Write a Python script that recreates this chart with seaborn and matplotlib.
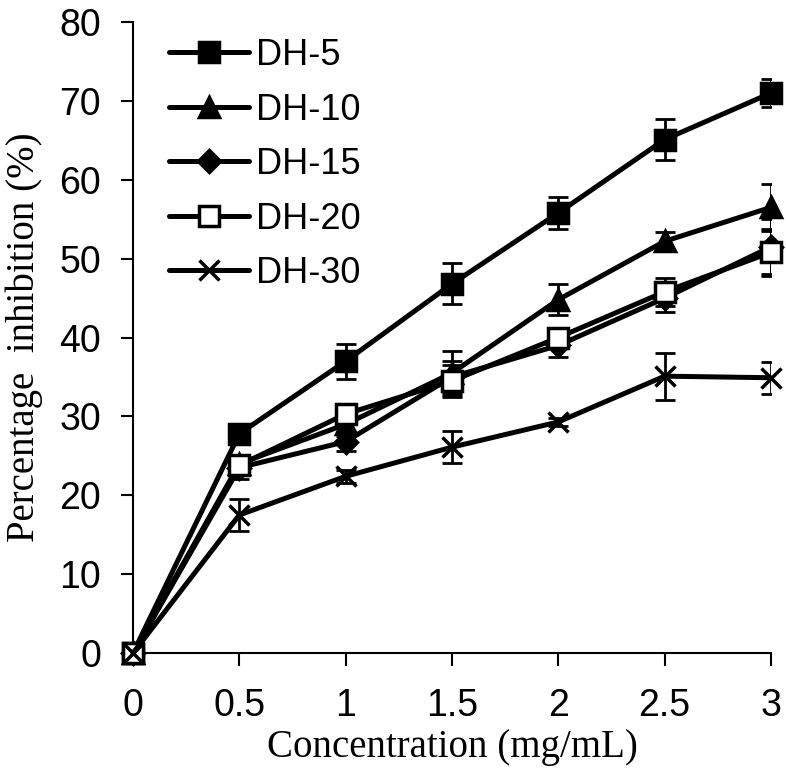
"""Percentage inhibition vs concentration for hydrolysates at different DH."""

import numpy as np
import pandas as pd
import matplotlib.pyplot as plt
import seaborn as sns

conc = [0, 0.5, 1, 1.5, 2, 2.5, 3]
series = ['DH-5', 'DH-10', 'DH-15', 'DH-20', 'DH-30']

dh5 = [0, 27.8, 37.0, 46.8, 55.8, 65.1, 71.0]
dh10 = [0, 24.0, 29.0, 35.5, 44.8, 52.2, 56.5]
dh15 = [0, 23.5, 26.8, 35.0, 39.0, 45.0, 51.5]
dh20 = [0, 23.8, 30.3, 34.5, 40.0, 45.8, 50.8]
dh30 = [0, 17.5, 22.4, 26.1, 29.3, 35.1, 34.9]

err5 = [0, 1.2, 2.2, 2.6, 2.0, 2.6, 1.8]
err10 = [0, 1.0, 1.5, 2.8, 2.0, 1.2, 3.0]
err15 = [0, 1.5, 1.2, 2.0, 1.5, 1.8, 3.5]
err20 = [0, 1.0, 1.0, 2.0, 1.2, 1.8, 3.0]
err30 = [0, 2.0, 0.8, 2.0, 0.5, 3.0, 2.0]

values = [dh5, dh10, dh15, dh20, dh30]
errors = [err5, err10, err15, err20, err30]

df = pd.concat([
    pd.DataFrame({'conc': conc, 'val': v, 'err': e, 'DH': name})
    for name, v, e in zip(series, values, errors)
], ignore_index=True)

sns.set_style('ticks')
plt.rcParams['font.family'] = ['Liberation Sans', 'DejaVu Sans']
for key in ['text.color', 'xtick.color', 'ytick.color', 'axes.edgecolor',
            'axes.labelcolor']:
    plt.rcParams[key] = 'black'

fig = plt.figure(figsize=(7.86, 7.69), dpi=100)
ax = fig.add_axes([0.1692, 0.1508, 0.8117, 0.8206])

styles = {
    'DH-5': dict(marker='s', mfc='black', ms=14),
    'DH-10': dict(marker='^', mfc='black', ms=15),
    'DH-15': dict(marker='D', mfc='black', ms=11),
    'DH-20': dict(marker='s', mfc='white', ms=14),
    'DH-30': dict(marker='x', mfc='black', ms=15),
}

for name in series:
    sub = df[df['DH'] == name]
    st = styles[name]
    ax.errorbar(sub['conc'], sub['val'], yerr=sub['err'], fmt='none',
                ecolor='black', elinewidth=2, capsize=7, capthick=2, zorder=2)
    sns.lineplot(data=sub, x='conc', y='val', ax=ax, color='black',
                 linewidth=3.6, marker=st['marker'], markersize=st['ms'],
                 markerfacecolor=st['mfc'], markeredgecolor='black',
                 markeredgewidth=2.5, label=name, zorder=3, clip_on=False)

ax.set_xlim(0, 3)
ax.set_ylim(0, 80)
ax.set_xticks(conc)
ax.set_xticklabels(['0', '0.5', '1', '1.5', '2', '2.5', '3'])
ax.set_yticks(range(0, 81, 10))
ax.tick_params(labelsize=27, width=1.5, length=9, direction='out')
ax.tick_params(axis='y', pad=14)
ax.tick_params(axis='x', pad=16)
for s in ['left', 'bottom']:
    ax.spines[s].set_linewidth(1.5)
sns.despine(ax=ax)

ax.set_xlabel('Concentration (mg/mL)', fontsize=28, family='Liberation Serif',
              labelpad=4)
ax.set_ylabel('Percentage  inhibition (%)', fontsize=28,
              family='Liberation Serif', labelpad=12)

leg = ax.legend(loc='upper left', bbox_to_anchor=(0.006, 1.026), frameon=False,
                fontsize=26, handlelength=2.2, labelspacing=0.54,
                handletextpad=0.2)

fig.savefig('out.png', dpi=100)
